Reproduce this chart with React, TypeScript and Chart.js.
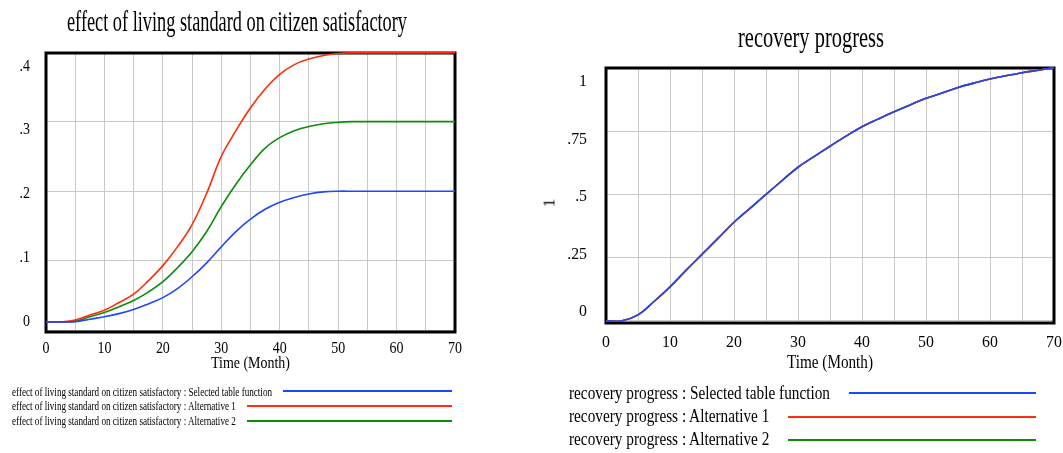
import React, { useEffect, useRef } from 'react';
import { Chart, registerables } from 'chart.js';

Chart.register(...registerables);

const FONT = '"Liberation Serif", "Times New Roman", serif';

// ---------- data ----------
const months = [0, 2.5, 5, 7.5, 10, 12.5, 15, 17.5, 20, 22.5, 25, 27.5, 30, 32.5, 35, 37.5, 40, 42.5, 45, 47.5, 50, 52.5, 55, 57.5, 60, 62.5, 65, 67.5, 70];

const effectSelected = [0.0122, 0.0122, 0.0125, 0.016, 0.0195, 0.024, 0.03, 0.038, 0.047, 0.06, 0.077, 0.097, 0.12, 0.142, 0.16, 0.174, 0.184, 0.191, 0.196, 0.199, 0.2, 0.2, 0.2, 0.2, 0.2, 0.2, 0.2, 0.2, 0.2];
const effectAlt1 = [0.0122, 0.0122, 0.0147, 0.022, 0.029, 0.04, 0.052, 0.071, 0.093, 0.12, 0.152, 0.197, 0.25, 0.287, 0.32, 0.347, 0.368, 0.382, 0.39, 0.395, 0.398, 0.399, 0.399, 0.399, 0.399, 0.399, 0.399, 0.399, 0.399];
const effectAlt2 = [0.0122, 0.0122, 0.013, 0.0195, 0.0257, 0.034, 0.043, 0.055, 0.07, 0.09, 0.113, 0.142, 0.178, 0.21, 0.238, 0.262, 0.277, 0.287, 0.293, 0.297, 0.299, 0.3, 0.3, 0.3, 0.3, 0.3, 0.3, 0.3, 0.3];

const recoverySelected = [0, 0.001, 0.024, 0.077, 0.135, 0.2, 0.263, 0.326, 0.39, 0.445, 0.5, 0.554, 0.607, 0.649, 0.69, 0.73, 0.767, 0.797, 0.826, 0.853, 0.879, 0.9, 0.922, 0.939, 0.955, 0.968, 0.98, 0.99, 1.0];
const recoveryAlt1 = [0, 0.001, 0.024, 0.077, 0.135, 0.2, 0.263, 0.326, 0.39, 0.445, 0.5, 0.554, 0.607, 0.649, 0.69, 0.73, 0.767, 0.797, 0.826, 0.853, 0.879, 0.9, 0.922, 0.939, 0.955, 0.968, 0.98, 0.99, 1.0];
const recoveryAlt2 = [0, 0.001, 0.024, 0.077, 0.135, 0.2, 0.263, 0.326, 0.39, 0.445, 0.5, 0.554, 0.607, 0.649, 0.69, 0.73, 0.767, 0.797, 0.826, 0.853, 0.879, 0.9, 0.922, 0.939, 0.955, 0.968, 0.98, 0.99, 1.0];

const xGridValues = [0, 5, 10, 15, 20, 25, 30, 35, 40, 45, 50, 55, 60, 65, 70];
const xTickValues = [0, 10, 20, 30, 40, 50, 60, 70];
const xTickLabels = ['0', '10', '20', '30', '40', '50', '60', '70'];

const effectGridValues = [0, 0.1, 0.2, 0.3, 0.4];
const effectTickValues = [0, 0.1, 0.2, 0.3, 0.4];
const effectTickLabels = ['0', '.1', '.2', '.3', '.4'];

const recoveryGridValues = [0, 0.25, 0.5, 0.75, 1];
const recoveryTickValues = [0, 0.25, 0.5, 0.75, 1];
const recoveryTickLabels = ['0', '.25', '.5', '.75', '1'];

const seriesNames = ['Selected table function', 'Alternative 1', 'Alternative 2'];
const seriesColors = ['#1e46ff', '#ff2d0a', '#0b8c0b'];

const effectTitle = 'effect of living standard on citizen satisfactory';
const recoveryTitle = 'recovery progress';
const xAxisTitle = 'Time (Month)';
const recoveryUnits = '1';

// ---------- plugins ----------
const framePlugin = {
  id: 'frame',
  beforeDatasetsDraw(chart: any) {
    const { ctx, chartArea } = chart;
    ctx.save();
    ctx.strokeStyle = '#000';
    ctx.lineWidth = 3;
    ctx.strokeRect(chartArea.left, chartArea.top, chartArea.right - chartArea.left, chartArea.bottom - chartArea.top);
    ctx.restore();
  },
};

const tickTextPlugin = {
  id: 'tickText',
  afterDraw(chart: any, _args: any, opts: any) {
    const ctx = chart.ctx;
    ctx.save();
    ctx.fillStyle = '#000';
    ctx.font = `${opts.size}px ${FONT}`;
    ctx.textBaseline = 'alphabetic';
    ctx.textAlign = 'center';
    opts.xValues.forEach((v: number, i: number) => {
      const px = chart.scales.x.getPixelForValue(v);
      ctx.save();
      ctx.translate(px, opts.xBaseline);
      ctx.scale(opts.sx, 1);
      ctx.fillText(opts.xLabels[i], 0, 0);
      ctx.restore();
    });
    ctx.textAlign = 'right';
    opts.yValues.forEach((v: number, i: number) => {
      const py = chart.scales.yl.getPixelForValue(v);
      ctx.save();
      ctx.translate(opts.yRight, py + opts.size * 0.33);
      ctx.scale(opts.sx, 1);
      ctx.fillText(opts.yLabels[i], 0, 0);
      ctx.restore();
    });
    ctx.restore();
  },
};

// ---------- text helpers ----------
let measureCtx: CanvasRenderingContext2D | null = null;
function measure(text: string, size: number) {
  if (!measureCtx) measureCtx = document.createElement('canvas').getContext('2d');
  measureCtx!.font = `${size}px ${FONT}`;
  return measureCtx!.measureText(text).width;
}

function Label(props: { text: string; x: number; baseline: number; size: number; width?: number; sx?: number; align?: 'left' | 'center' }) {
  const { text, x, baseline, size, align = 'left' } = props;
  const raw = measure(text, size);
  const sx = props.sx ?? (props.width ? props.width / raw : 1);
  const w = raw * sx;
  const left = align === 'center' ? x - w / 2 : x;
  return (
    <div
      style={{
        position: 'absolute',
        left,
        top: baseline - 0.8375 * size,
        fontFamily: FONT,
        fontSize: size,
        lineHeight: `${size}px`,
        whiteSpace: 'nowrap',
        color: '#000',
        transform: `scaleX(${sx})`,
        transformOrigin: '0 0',
      }}
    >
      {text}
    </div>
  );
}

function Swatch(props: { x1: number; x2: number; y: number; color: string }) {
  return (
    <div style={{ position: 'absolute', left: props.x1, top: props.y - 1, width: props.x2 - props.x1, height: 2, background: props.color }} />
  );
}

// ---------- chart ----------
type Spec = {
  left: number;
  width: number;
  height: number;
  area: { left: number; top: number; right: number; bottom: number };
  yMin: number;
  yMax: number;
  labelMin: number;
  labelMax: number;
  gridValues: number[];
  tickValues: number[];
  tickLabels: string[];
  series: number[][];
  tick: { size: number; sx: number; xBaseline: number; yRight: number };
};

function Plot({ spec }: { spec: Spec }) {
  const ref = useRef<HTMLCanvasElement>(null);
  useEffect(() => {
    const gridOpts = { color: '#cacaca', lineWidth: 1, drawTicks: false };
    const chart = new Chart(ref.current!, {
      type: 'line',
      data: {
        datasets: spec.series.map((vals, i) => ({
          label: seriesNames[i],
          data: months.map((m, j) => ({ x: m, y: vals[j] })),
          borderColor: seriesColors[i],
          backgroundColor: seriesColors[i],
          borderWidth: 1.6,
          pointRadius: 0,
          fill: false,
          tension: 0.4,
          clip: false,
        })) as any,
      },
      options: {
        responsive: false,
        animation: false,
        events: [],
        layout: {
          padding: {
            left: spec.area.left,
            top: spec.area.top,
            right: spec.width - spec.area.right,
            bottom: spec.height - spec.area.bottom,
          },
        },
        plugins: {
          legend: { display: false },
          title: { display: false },
          tooltip: { enabled: false },
          tickText: {
            size: spec.tick.size,
            sx: spec.tick.sx,
            xBaseline: spec.tick.xBaseline,
            yRight: spec.tick.yRight,
            xValues: xTickValues,
            xLabels: xTickLabels,
            yValues: spec.tickValues,
            yLabels: spec.tickLabels,
          },
        } as any,
        scales: {
          x: {
            type: 'linear',
            min: 0,
            max: 70,
            afterBuildTicks: (s: any) => { s.ticks = xGridValues.map((v) => ({ value: v })); },
            afterFit: (s: any) => { s.height = 0; },
            ticks: { display: false },
            grid: gridOpts,
            border: { display: false },
          },
          y: {
            type: 'linear',
            min: spec.yMin,
            max: spec.yMax,
            afterBuildTicks: (s: any) => { s.ticks = spec.gridValues.map((v) => ({ value: v })); },
            afterFit: (s: any) => { s.width = 0; },
            ticks: { display: false },
            grid: gridOpts,
            border: { display: false },
          },
          yl: {
            type: 'linear',
            position: 'left',
            min: spec.labelMin,
            max: spec.labelMax,
            afterBuildTicks: (s: any) => { s.ticks = spec.tickValues.map((v) => ({ value: v })); },
            afterFit: (s: any) => { s.width = 0; },
            ticks: { display: false },
            grid: { display: false },
            border: { display: false },
          },
        } as any,
      },
      plugins: [framePlugin, tickTextPlugin],
    });
    return () => chart.destroy();
  }, []);
  return (
    <canvas
      ref={ref}
      width={spec.width}
      height={spec.height}
      style={{ position: 'absolute', left: spec.left, top: 0, width: spec.width, height: spec.height }}
    />
  );
}

const leftSpec: Spec = {
  left: 0,
  width: 525,
  height: 453,
  area: { left: 46, top: 53, right: 455, bottom: 332 },
  yMin: -0.0024,
  yMax: 0.3987,
  labelMin: -0.0182,
  labelMax: 0.4188,
  gridValues: effectGridValues,
  tickValues: effectTickValues,
  tickLabels: effectTickLabels,
  series: [effectSelected, effectAlt1, effectAlt2],
  tick: { size: 17, sx: 0.82, xBaseline: 353.3, yRight: 30 },
};

const rightSpec: Spec = {
  left: 530,
  width: 533,
  height: 453,
  area: { left: 76, top: 68, right: 524, bottom: 323 },
  yMin: -0.0079,
  yMax: 0.9988,
  labelMin: -0.053,
  labelMax: 1.0557,
  gridValues: recoveryGridValues,
  tickValues: recoveryTickValues,
  tickLabels: recoveryTickLabels,
  series: [recoverySelected, recoveryAlt1, recoveryAlt2],
  tick: { size: 17, sx: 0.93, xBaseline: 346.7, yRight: 57 },
};

export default function App() {
  const leftLegendSx = 260 / measure(`${effectTitle} : ${seriesNames[0]}`, 11.5);
  const rightLegendSx = 261 / measure(`${recoveryTitle} : ${seriesNames[0]}`, 18.5);
  const leftLegendBase = [396.8, 410.8, 425.8];
  const leftSwatch = [{ x1: 283, y: 391 }, { x1: 247, y: 405.7 }, { x1: 247, y: 420.7 }];
  const rightLegendBase = [399.3, 422, 445.3];
  const rightSwatch = [{ x1: 849, y: 392.7 }, { x1: 788, y: 416.7 }, { x1: 788, y: 440 }];
  return (
    <div style={{ position: 'fixed', left: 0, top: 0, width: 1063, height: 453, background: '#fff', overflow: 'hidden' }}>
      <Plot spec={leftSpec} />
      <Plot spec={rightSpec} />

      <Label text={effectTitle} x={236.7} baseline={31.7} size={29} width={340} align="center" />
      <Label text={xAxisTitle} x={250} baseline={368} size={17} width={79} align="center" />
      {seriesNames.map((n, i) => (
        <React.Fragment key={'l' + i}>
          <Label text={`${effectTitle} : ${n}`} x={11.7} baseline={leftLegendBase[i]} size={11.5} sx={leftLegendSx} />
          <Swatch x1={leftSwatch[i].x1} x2={452} y={leftSwatch[i].y} color={seriesColors[i]} />
        </React.Fragment>
      ))}

      <Label text={recoveryTitle} x={810.6} baseline={47} size={29} width={146} align="center" />
      <Label text={xAxisTitle} x={830} baseline={368.5} size={18} width={86} align="center" />
      <div
        style={{
          position: 'absolute',
          left: 549,
          top: 203,
          fontFamily: FONT,
          fontSize: 17,
          lineHeight: '17px',
          transform: 'translate(-50%, -50%) rotate(-90deg)',
          color: '#000',
        }}
      >
        {recoveryUnits}
      </div>
      {seriesNames.map((n, i) => (
        <React.Fragment key={'r' + i}>
          <Label text={`${recoveryTitle} : ${n}`} x={569} baseline={rightLegendBase[i]} size={18.5} sx={rightLegendSx} />
          <Swatch x1={rightSwatch[i].x1} x2={1036} y={rightSwatch[i].y} color={seriesColors[i]} />
        </React.Fragment>
      ))}
    </div>
  );
}
